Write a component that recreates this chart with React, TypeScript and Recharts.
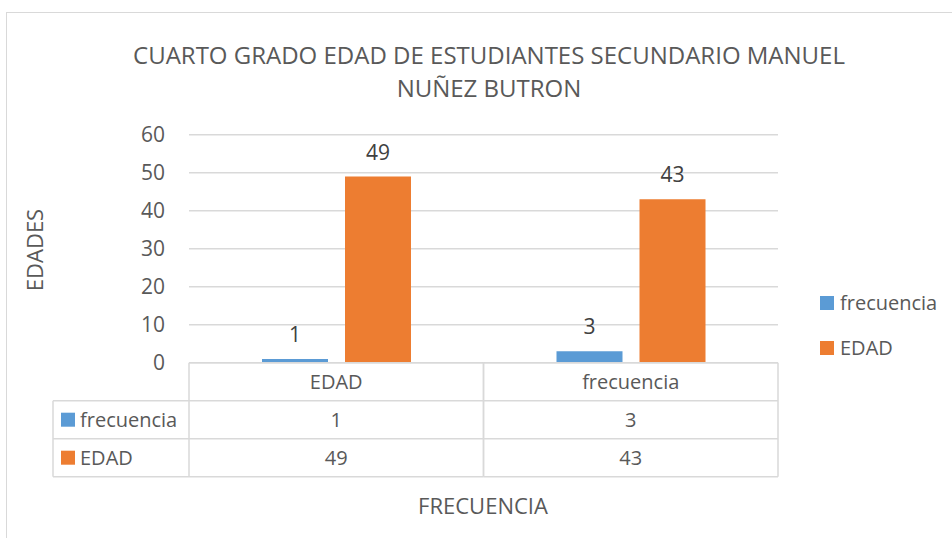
import React from "react";
import { BarChart, Bar, XAxis, YAxis, CartesianGrid, LabelList } from "recharts";

const categories = ["EDAD", "frecuencia"];
const frecuenciaValues = [1, 3];
const edadValues = [49, 43];
const seriesNames = ["frecuencia", "EDAD"];
const seriesColors = ["#5b9bd5", "#ed7d31"];
const yTicks = [0, 10, 20, 30, 40, 50, 60];

const chartTitle = ["CUARTO GRADO EDAD DE ESTUDIANTES SECUNDARIO MANUEL", "NUÑEZ BUTRON"];
const yTitle = "EDADES";
const xTitle = "FRECUENCIA";

const FONT = "'Open Sans', 'Noto Sans', sans-serif";
const TEXT = "#595959";
const GRID = "#d9d9d9";
const ROW_H = 38;
const LABEL_COL_W = 136;

const data = categories.map((c, i) => ({
    name: c,
    frecuencia: frecuenciaValues[i],
    EDAD: edadValues[i],
}));

const seriesValues = [frecuenciaValues, edadValues];

// columna de la tabla de datos, dibujada como tick del eje X
function TableTick(props: any) {
    const { x, y, payload, index } = props;
    const half = payload?.offset || 147.25;
    const left = x - half;
    const right = x + half;
    const bottom = y + ROW_H * 3;
    return (
        <g>
            <line x1={left} x2={left} y1={y} y2={bottom} stroke={GRID} strokeWidth={1.5} />
            <line x1={right} x2={right} y1={y} y2={bottom} stroke={GRID} strokeWidth={1.5} />
            {[1, 2, 3].map((r) => (
                <line key={r} x1={left} x2={right} y1={y + ROW_H * r} y2={y + ROW_H * r} stroke={GRID} strokeWidth={1.5} />
            ))}
            <text x={x} y={y + ROW_H / 2} textAnchor="middle" dominantBaseline="central" fill={TEXT} fontSize={20} fontFamily={FONT}>
                {payload.value}
            </text>
            {seriesValues.map((vals, r) => (
                <text key={r} x={x} y={y + ROW_H * (r + 1.5)} textAnchor="middle" dominantBaseline="central" fill={TEXT} fontSize={20} fontFamily={FONT}>
                    {vals[index]}
                </text>
            ))}
            {index === 0 && (
                <g>
                    <line x1={left - LABEL_COL_W} x2={left - LABEL_COL_W} y1={y + ROW_H} y2={bottom} stroke={GRID} strokeWidth={1.5} />
                    {[1, 2, 3].map((r) => (
                        <line key={r} x1={left - LABEL_COL_W} x2={left} y1={y + ROW_H * r} y2={y + ROW_H * r} stroke={GRID} strokeWidth={1.5} />
                    ))}
                    {seriesNames.map((s, r) => (
                        <g key={s}>
                            <rect x={left - LABEL_COL_W + 8} y={y + ROW_H * (r + 1.5) - 7} width={14} height={14} fill={seriesColors[r]} />
                            <text x={left - LABEL_COL_W + 27} y={y + ROW_H * (r + 1.5)} dominantBaseline="central" fill={TEXT} fontSize={20} fontFamily={FONT}>
                                {s}
                            </text>
                        </g>
                    ))}
                </g>
            )}
        </g>
    );
}

export default function App() {
    return (
        <div style={{ position: "absolute", left: 0, top: 0, width: 952, height: 538, background: "#fff", overflow: "hidden", fontFamily: FONT }}>
            <div style={{ position: "absolute", left: 6, top: 12, width: 980, height: 560, border: `1.5px solid ${GRID}`, boxSizing: "border-box" }} />
            <div style={{ position: "absolute", left: 0, width: 978, top: 38, textAlign: "center", color: TEXT, fontSize: 24, lineHeight: "33px" }}>
                {chartTitle.map((t) => (
                    <div key={t}>{t}</div>
                ))}
            </div>
            <div style={{ position: "absolute", left: 34, top: 250, transform: "translate(-50%, -50%) rotate(-90deg)", color: TEXT, fontSize: 22, whiteSpace: "nowrap" }}>
                {yTitle}
            </div>
            <div style={{ position: "absolute", left: 0, width: 966, top: 490, textAlign: "center", color: TEXT, fontSize: 22 }}>
                {xTitle}
            </div>
            {seriesNames.map((s, i) => (
                <div key={s} style={{ position: "absolute", left: 820, top: 289 + i * 45, display: "flex", alignItems: "center", color: TEXT, fontSize: 20 }}>
                    <span style={{ display: "inline-block", width: 14, height: 14, background: seriesColors[i], marginRight: 6 }} />
                    {s}
                </div>
            ))}
            <div style={{ position: "absolute", left: 0, top: 0 }}>
                <BarChart
                    width={952}
                    height={538}
                    data={data}
                    margin={{ top: 134.7, right: 174, left: 129, bottom: 61.3 }}
                    barSize={66}
                    barGap={17}
                >
                    <CartesianGrid vertical={false} stroke={GRID} strokeWidth={1.5} />
                    <XAxis
                        dataKey="name"
                        height={114}
                        interval={0}
                        tickLine={false}
                        tickSize={0}
                        tickMargin={0}
                        axisLine={{ stroke: GRID, strokeWidth: 1.5 }}
                        tick={<TableTick />}
                    />
                    <YAxis
                        width={60}
                        domain={[0, 60]}
                        ticks={yTicks}
                        axisLine={false}
                        tickLine={false}
                        tickMargin={18}
                        tick={{ fill: TEXT, fontSize: 21, fontFamily: FONT }}
                    />
                    {seriesNames.map((s, i) => (
                        <Bar key={s} dataKey={s} fill={seriesColors[i]} isAnimationActive={false}>
                            <LabelList dataKey={s} position="top" offset={17} fill="#404040" fontSize={21} fontFamily={FONT} />
                        </Bar>
                    ))}
                </BarChart>
            </div>
        </div>
    );
}
